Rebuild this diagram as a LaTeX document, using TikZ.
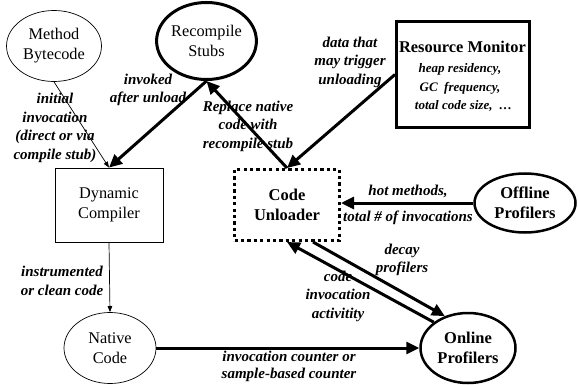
\documentclass[tikz,border=0pt]{standalone}
\usepackage{fontspec}
\setmainfont{Liberation Serif}
\usetikzlibrary{arrows.meta,shapes.geometric}
\begin{document}
\begin{tikzpicture}[x=1pt,y=-1pt,
  lbl/.style={font=\fontsize{15}{18.5}\selectfont\bfseries\itshape, align=center, inner sep=0pt},
  small/.style={font=\fontsize{13}{16}\selectfont\bfseries\itshape, inner sep=0pt},
  ell/.style={ellipse, draw, inner sep=0pt, align=center, font=\fontsize{16.3}{20}\selectfont},
  boxn/.style={rectangle, draw, inner sep=0pt, align=center, font=\fontsize{16.3}{20}\selectfont},
  thickarr/.style={line width=3pt, -{Triangle[length=13pt,width=12pt]}},
  thinarr/.style={line width=0.7pt, -{Triangle[length=6pt,width=4.5pt]}}]
\useasboundingbox (0,0) rectangle (578,385);

% nodes
\node[ell, line width=0.7pt, minimum width=95pt, minimum height=71pt] (mb) at (54,46) {Method\\Bytecode};
\node[ell, line width=3pt, minimum width=94pt, minimum height=77pt] (rs) at (206.5,41) {Recompile\\Stubs};
\node[boxn, line width=0.8pt, minimum width=108pt, minimum height=74pt] (dc) at (109,205) {Dynamic\\Compiler};
\node[boxn, line width=3pt, dash pattern=on 3.2pt off 3.2pt, minimum width=105pt, minimum height=71pt, font=\fontsize{16.5}{20}\selectfont\bfseries] (cu) at (287,205) {Code\\Unloader};
\node[boxn, line width=3pt, minimum width=133pt, minimum height=106pt] (rm) at (463,74.5) {};
\node[ell, line width=0.7pt, minimum width=92pt, minimum height=71pt] (nc) at (110,348) {Native\\Code};
\node[ell, line width=2.5pt, minimum width=101pt, minimum height=59pt, font=\fontsize{16.5}{20}\selectfont\bfseries] (off) at (525,203) {Offline\\Profilers};
\node[ell, line width=2.5pt, minimum width=95pt, minimum height=70pt, font=\fontsize{16.5}{20}\selectfont\bfseries] (on) at (468,348) {Online\\Profilers};

% resource monitor text
\node[font=\fontsize{16.4}{20}\selectfont\bfseries, inner sep=0pt] (rmt) at (462.5,47) {Resource Monitor};
\node[small] (rm1) at (460,69) {heap residency,};
\node[small] (rm2) at (460,88) {GC\ \ frequency,};
\node[small] (rm3) at (463.5,106) {total code size,\ \ …};

% connectors
\draw[thinarr] (mb.south) -- (dc.north);
\draw[thickarr] (rs.south) -- (dc.north);
\draw[thickarr] (cu.north) -- (rs.south);
\draw[thickarr] (rm.west) -- (cu.north);
\draw[thickarr] (off.west) -- (off.west -| cu.east);
\draw[thickarr] ([xshift=26pt]cu.south) -- (on.126);
\draw[thickarr] (on.143) -- (cu.south);
\draw[thickarr] (nc.east) -- (on.west);
\draw[thinarr] (dc.south) -- (nc.north);

% labels
\node[lbl] (l1) at (55,128) {initial\\invocation\\(direct or via\\compile stub)};
\node[lbl] (l2) at (148,90) {invoked\\after unload};
\node[lbl] (l3) at (248,126) {Replace native\\code with\\recompile stub};
\node[lbl] (l4) at (350,62) {data that\\may trigger\\unloading};
\node[lbl] (l5) at (408,191) {hot methods,};
\node[lbl] (l6) at (408,218) {total \# of invocations};
\node[lbl] (l7) at (402,260) {decay\\profilers};
\node[lbl] (l8) at (338,296) {code\\invocation\\activitity};
\node[lbl] (l9) at (62,281) {instrumented\\or clean code};
\node[lbl, font=\fontsize{15}{17}\selectfont\bfseries\itshape] (l10) at (289,366) {invocation counter or\\sample-based counter};
\end{tikzpicture}
\end{document}
